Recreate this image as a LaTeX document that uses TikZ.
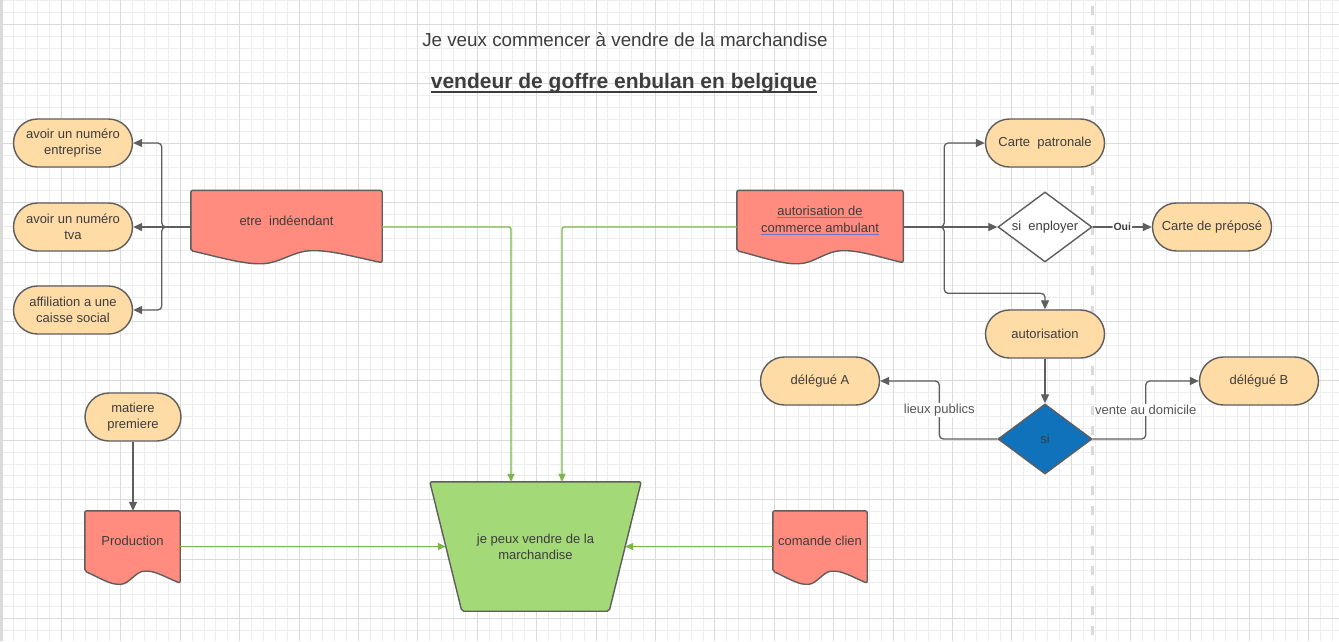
\documentclass[tikz,border=0pt]{standalone}
\usepackage{fontspec}
\setmainfont{Liberation Sans}
\usetikzlibrary{positioning,calc,arrows.meta,shapes.geometric}

\definecolor{StadiumFill}{HTML}{FFDBA6}
\definecolor{DocFill}{HTML}{FF8C7E}
\definecolor{FunnelFill}{HTML}{A3D977}
\definecolor{ChoiceFill}{HTML}{1072BA}
\definecolor{LineGray}{HTML}{5E5E5E}
\definecolor{FlowGreen}{HTML}{7AB648}
\definecolor{TextGray}{HTML}{3D3D3D}
\definecolor{LabelGray}{HTML}{555555}
\definecolor{GridMinor}{HTML}{EDEDED}
\definecolor{GridMajor}{HTML}{DADADA}
\definecolor{LinkBlue}{HTML}{7070D0}

\pgfdeclarelayer{grid}
\pgfdeclarelayer{shapes}
\pgfsetlayers{grid,shapes,main}

\newcommand{\Link}[1]{{\color{LinkBlue}\underline{\textcolor{TextGray}{#1}}}}

\begin{document}
\begin{tikzpicture}
[
x=1pt, y=-1pt,
every node/.style={text=TextGray, font=\fontsize{13}{16}\selectfont},
Stadium/.style={rectangle, rounded corners=24pt, draw=LineGray, fill=StadiumFill, line width=1.4pt, minimum width=119pt, minimum height=48pt, inner sep=0pt, align=center},
Document/.style={rectangle, minimum width=#1, minimum height=60pt, inner sep=2pt, align=center},
DocLine/.style={draw=LineGray, fill=DocFill, line width=1.4pt, rounded corners=2pt},
Funnel/.style={rectangle, minimum width=211pt, minimum height=129pt, inner sep=0pt, align=center},
FunnelLine/.style={draw=LineGray, fill=FunnelFill, line width=1.4pt, rounded corners=2pt},
Decision/.style={diamond, draw=LineGray, fill=white, line width=1.4pt, aspect=1.34, inner sep=0pt, minimum width=94pt, minimum height=70pt},
Choice/.style={Decision, fill=ChoiceFill},
GrayArrow/.style={-{Triangle[length=9pt,width=8pt]}, draw=LineGray, line width=1.3pt, rounded corners=4pt},
GreenArrow/.style={-{Triangle[length=8pt,width=7pt]}, draw=FlowGreen, line width=1.3pt, rounded corners=2pt},
EdgeLabel/.style={fill=white, inner sep=1pt, text=LabelGray, font=\fontsize{13}{15}\selectfont},
OuiLabel/.style={fill=white, inner sep=1pt, font=\bfseries\fontsize{10.5}{12}\selectfont},
Title/.style={inner sep=0pt, font=\fontsize{18.8}{22}\selectfont},
Heading/.style={inner sep=0pt, font=\bfseries\fontsize{21}{25}\selectfont},
HeadRule/.style={draw=TextGray, line width=1.8pt},
MinorGrid/.style={draw=GridMinor, line width=1pt},
MajorGrid/.style={draw=GridMajor, line width=1.2pt},
Divider/.style={draw=GridMajor, line width=3pt, dash pattern=on 9pt off 11pt},
]

\useasboundingbox (0,0) rectangle (1339,641);

% background grid
\begin{pgfonlayer}{grid}
\fill[white] (0,0) rectangle (1339,641);
\foreach \i in {0,...,112} \draw[MinorGrid] ({round(1.6+\i*11.88)+0.5},0) -- ({round(1.6+\i*11.88)+0.5},641);
\foreach \j in {0,...,53} \draw[MinorGrid] (0,{round(0.24+\j*11.88)+0.5}) -- (1339,{round(0.24+\j*11.88)+0.5});
\foreach \i in {0,...,22} \draw[MajorGrid] ({round(1.6+\i*59.4)+0.5},0) -- ({round(1.6+\i*59.4)+0.5},641);
\foreach \j in {0,...,10} \draw[MajorGrid] (0,{round(24+\j*59.4)+0.5}) -- (1339,{round(24+\j*59.4)+0.5});
\fill[GridMajor] (0,0) rectangle (3,641);
\draw[Divider] (1092,6) -- (1092,641);
\end{pgfonlayer}

% titles
\node[Title] (question) at (625,40) {Je veux commencer à vendre de la marchandise};
\node[Heading] (subject) at (624,83) {vendeur de goffre enbulan en belgique};
\draw[HeadRule] ([yshift=-4pt]subject.base west) -- ([yshift=-4pt]subject.base east);

% left side
\node[Stadium] (entreprise) at (73,143) {avoir un numéro\\entreprise};
\node[Stadium] (tva) at (73,227) {avoir un numéro\\tva};
\node[Stadium] (caisse) at (73,310) {affiliation a une\\caisse social};
\node[Document=191pt] (etre) at (286.5,220.5) {etre\ \ indéendant};

\node[Stadium, minimum width=96pt] (matiere) at (133,417) {matiere\\premiere};
\node[Document=95pt] (production) at (132.5,541) {Production};

% centre
\node[Funnel] (vendre) at (535.5,546.5) {je peux vendre de la\\marchandise};
\node[Document=94pt] (comande) at (820,541) {comande clien};

% right side
\node[Document=166pt, font=\fontsize{13}{17}\selectfont] (ambulant) at (820,220.5) {\Link{autorisation de}\\\Link{commerce ambulant}};
\node[Stadium] (patronale) at (1045,143) {Carte\ \ patronale};
\node[Decision] (enployer) at (1045,227) {si\ \ enployer};
\node[Stadium] (prepose) at (1212,227) {Carte de préposé};
\node[Stadium] (autorisation) at (1045,334) {autorisation};
\node[Stadium] (delegueA) at (820,381) {délégué A};
\node[Stadium] (delegueB) at (1259,381) {délégué B};
\node[Choice] (si) at (1045,439) {si};

% document and funnel outlines
\begin{pgfonlayer}{shapes}
\foreach \n in {etre,ambulant,production,comande}
  \draw[DocLine] (\n.south west) -- (\n.north west) -- (\n.north east) -- ($(\n.south east)+(0,12)$)
    .. controls ($(\n.south west)!0.85!(\n.south east)+(0,6)$) and ($(\n.south west)!0.74!(\n.south east)$) .. ($(\n.south west)!0.64!(\n.south east)$)
    .. controls ($(\n.south west)!0.54!(\n.south east)$) and ($(\n.south west)!0.46!(\n.south east)+(0,13)$) .. ($(\n.south west)!0.36!(\n.south east)+(0,13)$)
    .. controls ($(\n.south west)!0.26!(\n.south east)+(0,13)$) and ($(\n.south west)!0.12!(\n.south east)+(0,5)$) .. (\n.south west) -- cycle;
\draw[FunnelLine] (vendre.north west) -- (vendre.north east) -- ([xshift=-32pt]vendre.south east) -- ([xshift=32pt]vendre.south west) -- cycle;
\end{pgfonlayer}

% gray connectors
\draw[GrayArrow] (etre.west |- tva.east) -- ++(-29,0) |- (entreprise.east);
\draw[GrayArrow] (etre.west |- tva.east) -- (tva.east);
\draw[GrayArrow] (etre.west |- tva.east) -- ++(-29,0) |- (caisse.east);

\draw[GrayArrow] (ambulant.east |- enployer.west) -- ++(41,0) |- (patronale.west);
\draw[GrayArrow] (ambulant.east |- enployer.west) -- (enployer.west);
\draw[GrayArrow] (ambulant.east |- enployer.west) -- ++(41,0) |- ([yshift=16pt]autorisation.north) -- (autorisation.north);
\draw[GrayArrow] (enployer.east) -- node[OuiLabel] (oui) {Oui} (prepose.west);

\draw[GrayArrow] (autorisation.south) -- (si.north);
\draw[GrayArrow] (si.west) -- ++(-58,0) |- node[EdgeLabel, pos=0.25] (lieux) {lieux publics} (delegueA.east);
\draw[GrayArrow] (si.east) -- ++(53,0) |- node[EdgeLabel, pos=0.25] (domicile) {vente au domicile} (delegueB.west);

\draw[GrayArrow] (matiere.south) -- (matiere.south |- production.north);

% green connectors
\draw[GreenArrow] (etre.east |- tva.east) -| ([xshift=-24.5pt]vendre.north);
\draw[GreenArrow] (ambulant.west |- tva.east) -| ([xshift=26.5pt]vendre.north);
\draw[GreenArrow] (production.east |- vendre.west) -- ([xshift=16pt]vendre.west);
\draw[GreenArrow] (comande.west |- vendre.east) -- ([xshift=-16pt]vendre.east);

\end{tikzpicture}
\end{document}
